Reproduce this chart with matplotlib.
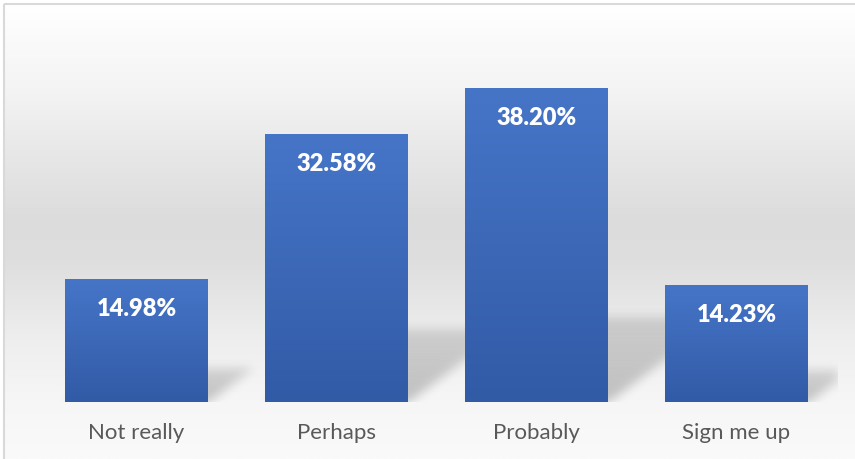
import numpy as np
import matplotlib.pyplot as plt
from matplotlib.patches import Rectangle

categories = ['Not really', 'Perhaps', 'Probably', 'Sign me up']
values = [14.98, 32.58, 38.20, 14.23]
labels = ['14.98%', '32.58%', '38.20%', '14.23%']

W, H = 855, 459
fig = plt.figure(figsize=(W / 100, H / 100), dpi=100)

# chart area background (vertical grey gradient) + border
bg = fig.add_axes([0, 0, 1, 1])
bg.axis('off')
stops_y = [4, 95, 150, 220, 260, 300, 340, 400, 459]
stops_g = [255, 243, 232, 220, 222, 230, 238, 246, 250]
yy = np.linspace(4, H, 400)
g = np.interp(yy, stops_y, stops_g) / 255
grad = np.dstack([np.repeat(g[:, None], 2, axis=1)] * 3)
bg.imshow(grad, extent=(4, W + 10, H, 4), aspect='auto', interpolation='bilinear')
bg.add_patch(Rectangle((4, 3.5), W + 20, H + 20, fill=False, ec='#d9d9d9', lw=1.5))
bg.set_xlim(0, W)
bg.set_ylim(H, 0)

ax = fig.add_axes([36.5 / W, 57 / H, 800 / W, 370 / H])
ax.patch.set_alpha(0)
x = np.arange(len(categories))
bw = 0.715
ymax = 45

bars = ax.bar(x, values, width=bw, color='none', zorder=3)

# bar fill gradient
top = np.array([70, 117, 200]) / 255
bot = np.array([50, 91, 166]) / 255
t = np.linspace(0, 1, 100)[:, None]
bar_grad = (top * (1 - t) + bot * t)[:, None, :].repeat(2, axis=1)
for b in bars:
    x0 = b.get_x()
    im = ax.imshow(bar_grad, extent=(x0, x0 + b.get_width(), 0, b.get_height()),
                   aspect='auto', zorder=3, interpolation='bilinear')
    im.set_clip_path(b)

# perspective shadows, computed in pixel space of the axes
nx, ny = 800, 370
sh = np.zeros((ny, nx))
px = np.arange(nx)[None, :]
py = np.arange(ny)[:, None]
for xi, v in zip(x, values):
    x1 = (xi + 0.5 + bw / 2) * 200
    x0 = (xi + 0.5 - bw / 2) * 200
    h = v * ny / ymax
    rise = 0.27 * h
    shift = 0.36 * h
    tt = py / rise
    inside = (py <= rise) & (px >= x0 + tt * shift) & (px <= x1 + tt * shift)
    fade = np.clip(1 - 0.4 * tt, 0, 1)
    sh = np.maximum(sh, inside * fade)
sig = 5
kern = np.exp(-0.5 * (np.arange(-15, 16) / sig) ** 2)
kern /= kern.sum()
sh = np.apply_along_axis(lambda r: np.convolve(r, kern, mode='same'), 1, sh)
sh = np.apply_along_axis(lambda c: np.convolve(c, kern, mode='same'), 0, sh)
rgba = np.zeros((ny, nx, 4))
rgba[..., 3] = sh * 0.22
ax.imshow(rgba, extent=(-0.5, 3.5, 0, ymax), origin='lower', aspect='auto',
          zorder=2, interpolation='bilinear')

for xi, v, lbl in zip(x, values, labels):
    ax.annotate(lbl, (xi, v), xytext=(0, -30), textcoords='offset pixels',
                ha='center', va='center', color='white', fontsize=17,
                fontweight='heavy', family='Lato', zorder=5)

ax.set_xlim(-0.5, 3.5)
ax.set_ylim(0, ymax)
ax.set_xticks(x, categories, family='Lato')
ax.tick_params(axis='x', length=0, pad=15, labelsize=16, labelcolor='#595959')
ax.set_yticks([])
for s in ax.spines.values():
    s.set_visible(False)

fig.savefig('out.png', dpi=100)
